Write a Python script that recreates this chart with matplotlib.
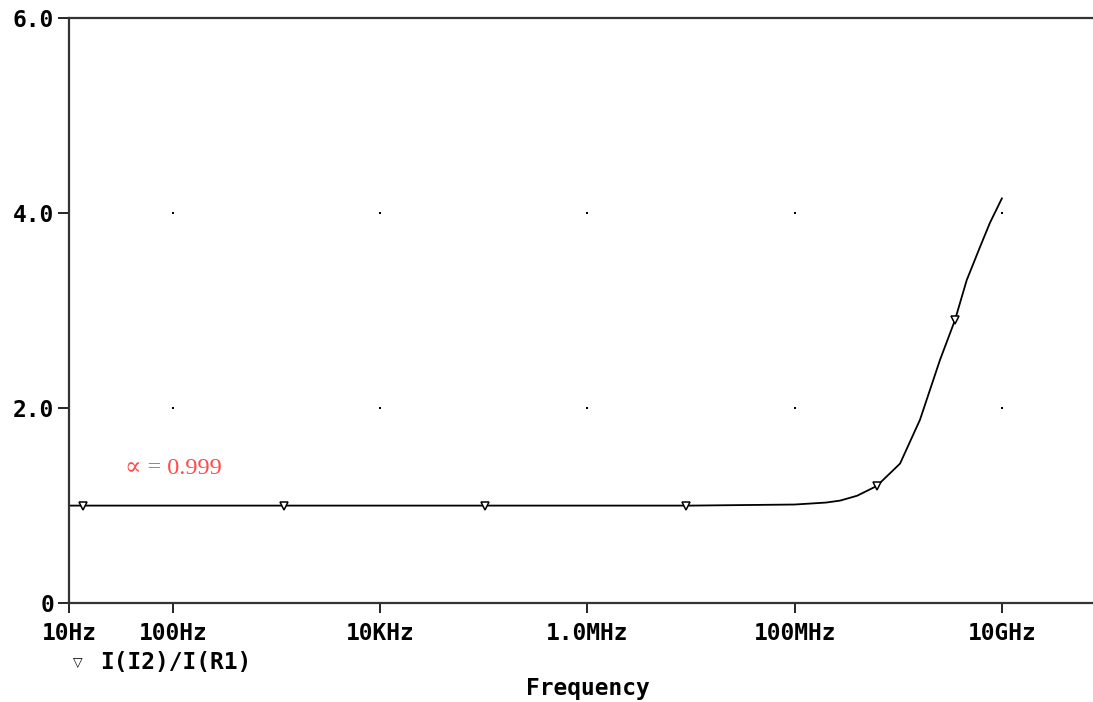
import matplotlib
matplotlib.use("Agg")
import matplotlib.pyplot as plt
import numpy as np

# values
freq = [10, 1e3, 1e5, 1e7, 1e8, 2e8, 2.74e8, 4e8, 6.2e8, 1.04e9, 1.62e9,
        2.52e9, 3.52e9, 4.57e9, 6.14e9, 7.67e9, 1e10]
ratio = [0.999, 0.999, 0.999, 0.999, 1.01, 1.03, 1.05, 1.10, 1.20, 1.43, 1.88,
         2.49, 2.90, 3.31, 3.65, 3.90, 4.15]
mk_freq = [13.5, 1.17e3, 1.02e5, 8.9e6, 6.2e8, 3.52e9]
mk_val = [0.999, 0.999, 0.999, 0.999, 1.20, 2.90]

xticks = [10, 100, 1e4, 1e6, 1e8, 1e10]
xlabels = ["10Hz", "100Hz", "10KHz", "1.0MHz", "100MHz", "10GHz"]
yticks = [0, 2, 4, 6]
ylabels = ["0", "2.0", "4.0", "6.0"]

mono = dict(family="DejaVu Sans Mono", fontweight="bold", fontsize=16.5)

fig = plt.figure(figsize=(10.93, 7.02), dpi=100)
ax = fig.add_axes([69.5 / 1093, 99 / 702, 1 - 69.5 / 1093, 585 / 702])

ax.plot(freq, ratio, color="black", lw=1.3)
ax.plot(mk_freq, mk_val, ls="none", marker="v", ms=6, mfc="white",
        mec="black", mew=1.1)

ax.set_xscale("log")
ax.set_xlim(10, 10 ** (1 + (1093 - 69.5) / 103.6))
ax.set_ylim(0, 6)

ax.set_xticks(xticks)
ax.set_xticklabels(xlabels, **mono)
ax.xaxis.set_minor_locator(matplotlib.ticker.NullLocator())
ax.set_yticks(yticks)
ax.set_yticklabels(ylabels, **mono)
ax.tick_params(axis="x", direction="out", length=7, width=1.2, pad=7)
ax.tick_params(axis="y", direction="out", length=8, width=1.2, pad=3)

for s in ["left", "top", "bottom"]:
    ax.spines[s].set_linewidth(1.6)
    ax.spines[s].set_color("#333333")
ax.spines["right"].set_visible(False)

# dotted grid: single dots at the tick intersections
gx, gy = np.meshgrid(xticks[1:], yticks[1:3])
ax.scatter(gx.ravel(), gy.ravel(), s=1.5, color="black", marker="s", lw=0)

fig.text(588 / 1093, 1 - 688 / 702, "Frequency", va="center", ha="center",
         **mono)

fig.text(125 / 1093, 1 - 468 / 702, "\u221d = 0.999", color="#ff4a4a",
         fontsize=17.5, family=["Liberation Serif", "DejaVu Serif"],
         va="center", ha="left")

fig.text(78 / 1093, 1 - 663 / 702, "\u25bd", fontsize=9, va="center",
         ha="center", family="DejaVu Sans")
fig.text(100 / 1093, 1 - 662 / 702, "I(I2)/I(R1)", va="center", ha="left",
         **mono)

fig.savefig("out.png", dpi=100)
